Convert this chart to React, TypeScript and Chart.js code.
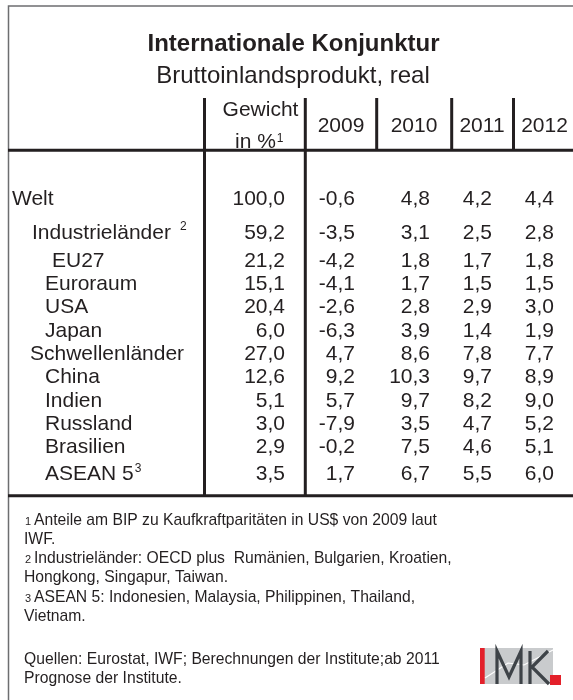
import { useEffect, useRef } from 'react';
import { Chart, registerables } from 'chart.js';

Chart.register(...registerables);

// ---------- data ----------
const TITLE = 'Internationale Konjunktur';
const SUBTITLE = 'Bruttoinlandsprodukt, real';
const WEIGHT_HEAD = ['Gewicht', 'in %'];
const YEARS = ['2009', '2010', '2011', '2012'];

const ROWS = ['Welt', 'Industrieländer', 'EU27', 'Euroraum', 'USA', 'Japan', 'Schwellenländer', 'China', 'Indien', 'Russland', 'Brasilien', 'ASEAN 5'];
const ROW_NOTE = ['', '2', '', '', '', '', '', '', '', '', '', '3'];

const WEIGHT = [100.0, 59.2, 21.2, 15.1, 20.4, 6.0, 27.0, 12.6, 5.1, 3.0, 2.9, 3.5];
const GDP_2009 = [-0.6, -3.5, -4.2, -4.1, -2.6, -6.3, 4.7, 9.2, 5.7, -7.9, -0.2, 1.7];
const GDP_2010 = [4.8, 3.1, 1.8, 1.7, 2.8, 3.9, 8.6, 10.3, 9.7, 3.5, 7.5, 6.7];
const GDP_2011 = [4.2, 2.5, 1.7, 1.5, 2.9, 1.4, 7.8, 9.7, 8.2, 4.7, 4.6, 5.5];
const GDP_2012 = [4.4, 2.8, 1.8, 1.5, 3.0, 1.9, 7.7, 8.9, 9.0, 5.2, 5.1, 6.0];

const FOOTNOTES: [string, string][] = [
  ['1', 'Anteile am BIP zu Kaufkraftparitäten in US$ von 2009 laut'],
  ['', 'IWF.'],
  ['2', 'Industrieländer: OECD plus  Rumänien, Bulgarien, Kroatien,'],
  ['', 'Hongkong, Singapur, Taiwan.'],
  ['3', 'ASEAN 5: Indonesien, Malaysia, Philippinen, Thailand,'],
  ['', 'Vietnam.'],
];
const SOURCES = ['Quellen: Eurostat, IWF; Berechnungen der Institute;ab 2011', 'Prognose der Institute.'];

// ---------- layout (positions / styles) ----------
const W = 573;
const H = 700;
const FONT = "'Liberation Sans', Arial, Helvetica, sans-serif";
const INK = '#231f20';
const ROW_Y = [205, 238.5, 267, 290, 313.3, 336.7, 360, 383.3, 406.7, 430, 453.3, 480];
const ROW_X = [12, 32, 52, 45, 45, 45, 30, 45, 45, 45, 45, 45];
const NOTE_GAP = [0, 9, 0, 0, 0, 0, 0, 0, 0, 0, 0, 1];
const COL_RIGHT = [285, 355, 430, 492, 554];
const YEAR_CX = [341, 414, 482, 544.5];
const FOOT_Y0 = 524.5;
const FOOT_DY = 19.3;
const SOURCE_Y = [664, 683];
const FOOT_FONT = 15.7;

const COLUMNS = [WEIGHT, GDP_2009, GDP_2010, GDP_2011, GDP_2012];
const fmt = (v: number) => v.toFixed(1).replace('.', ',');

export default function App() {
  const ref = useRef<HTMLCanvasElement>(null);

  useEffect(() => {
    const canvas = ref.current!;

    const tablePlugin = {
      id: 'tablePlugin',
      beforeDraw(chart: any) {
        const ctx: CanvasRenderingContext2D = chart.ctx;
        ctx.save();
        ctx.fillStyle = '#ffffff';
        ctx.fillRect(0, 0, W, H);

        // outer frame
        ctx.strokeStyle = '#6d6e70';
        ctx.lineWidth = 1.5;
        ctx.strokeRect(8.5, 6, 600, 760);

        // title
        ctx.fillStyle = INK;
        ctx.textAlign = 'center';
        ctx.textBaseline = 'alphabetic';
        ctx.font = `bold 24px ${FONT}`;
        ctx.fillText(TITLE, 293.5, 51);
        ctx.font = `24px ${FONT}`;
        ctx.fillText(SUBTITLE, 293, 83);

        // header
        ctx.font = `21px ${FONT}`;
        ctx.fillText(WEIGHT_HEAD[0], 260.5, 116);
        ctx.textAlign = 'left';
        ctx.fillText(WEIGHT_HEAD[1], 235, 147.5);
        const w1 = ctx.measureText(WEIGHT_HEAD[1]).width;
        ctx.font = `12px ${FONT}`;
        ctx.fillText('1', 235 + w1 + 1, 141.5);
        ctx.textAlign = 'center';
        ctx.font = `21px ${FONT}`;
        YEARS.forEach((y, i) => ctx.fillText(y, YEAR_CX[i], 131.5));

        // rules
        ctx.strokeStyle = INK;
        ctx.lineWidth = 3;
        ctx.beginPath();
        ctx.moveTo(8, 150.3); ctx.lineTo(W, 150.3);
        ctx.moveTo(8, 495.7); ctx.lineTo(W, 495.7);
        ctx.moveTo(204.5, 98); ctx.lineTo(204.5, 497);
        ctx.moveTo(305.3, 98); ctx.lineTo(305.3, 497);
        ctx.moveTo(376.7, 98); ctx.lineTo(376.7, 150);
        ctx.moveTo(451.7, 98); ctx.lineTo(451.7, 150);
        ctx.moveTo(513.5, 98); ctx.lineTo(513.5, 150);
        ctx.stroke();

        // footnotes
        ctx.textAlign = 'left';
        FOOTNOTES.forEach(([n, t], i) => {
          const y = FOOT_Y0 + i * FOOT_DY;
          if (n) {
            ctx.font = `11px ${FONT}`;
            ctx.fillText(n, 25, y);
            ctx.font = `${FOOT_FONT}px ${FONT}`;
            ctx.fillText(t, 34, y);
          } else {
            ctx.font = `${FOOT_FONT}px ${FONT}`;
            ctx.fillText(t, 24, y);
          }
        });
        ctx.font = `${FOOT_FONT}px ${FONT}`;
        SOURCES.forEach((t, i) => ctx.fillText(t, 24, SOURCE_Y[i]));

        // logo
        ctx.fillStyle = '#c9cbcd';
        ctx.fillRect(480, 648, 73, 36);
        ctx.fillStyle = '#e3202a';
        ctx.fillRect(480, 648, 4.7, 36);
        ctx.fillRect(550, 675, 11, 10);
        ctx.strokeStyle = '#ffffff';
        ctx.lineWidth = 1.2;
        ctx.beginPath();
        ctx.moveTo(485, 678); ctx.lineTo(508, 663); ctx.lineTo(524, 665); ctx.lineTo(553, 650);
        ctx.stroke();
        ctx.strokeStyle = '#3e4348';
        ctx.lineWidth = 3.2;
        ctx.lineJoin = 'miter';
        ctx.beginPath();
        ctx.moveTo(497, 684); ctx.lineTo(497, 651); ctx.lineTo(509, 677); ctx.lineTo(521, 651); ctx.lineTo(521, 684);
        ctx.moveTo(530, 684); ctx.lineTo(530, 651);
        ctx.moveTo(548, 651); ctx.lineTo(532, 667); ctx.lineTo(549, 684);
        ctx.stroke();
        ctx.restore();
      },
      afterDatasetsDraw(chart: any) {
        const ctx: CanvasRenderingContext2D = chart.ctx;
        const yScale = chart.scales.y;
        const xScale = chart.scales.x;
        ctx.save();
        ctx.fillStyle = INK;
        ctx.textBaseline = 'alphabetic';
        // row labels
        ROWS.forEach((label, r) => {
          const y = yScale.getPixelForValue(ROW_Y[r]);
          const x = xScale.getPixelForValue(ROW_X[r]);
          ctx.font = `21px ${FONT}`;
          ctx.textAlign = 'left';
          ctx.fillText(label, x, y);
          if (ROW_NOTE[r]) {
            const w = ctx.measureText(label).width;
            ctx.font = `12px ${FONT}`;
            ctx.fillText(ROW_NOTE[r], x + w + NOTE_GAP[r], y - 8.5);
          }
        });
        // values from dataset elements
        ctx.font = `21px ${FONT}`;
        ctx.textAlign = 'right';
        chart.data.datasets.forEach((_ds: any, c: number) => {
          const meta = chart.getDatasetMeta(c);
          meta.data.forEach((pt: any, r: number) => {
            ctx.fillText(fmt(COLUMNS[c][r]), pt.x, pt.y);
          });
        });
        ctx.restore();
      },
    };

    const datasets = COLUMNS.map((col, c) => ({
      label: c === 0 ? 'Gewicht' : YEARS[c - 1],
      data: col.map((_v, r) => ({ x: COL_RIGHT[c], y: ROW_Y[r] })),
      pointRadius: 0,
      showLine: false,
    }));

    const chart = new Chart(canvas, {
      type: 'scatter',
      data: { datasets },
      options: {
        responsive: false,
        animation: false,
        devicePixelRatio: 1,
        events: [],
        layout: { padding: 0 },
        plugins: { legend: { display: false }, tooltip: { enabled: false } },
        scales: {
          x: { type: 'linear', min: 0, max: W, display: false },
          y: { type: 'linear', min: 0, max: H, reverse: true, display: false },
        },
      },
      plugins: [tablePlugin],
    } as any);

    return () => chart.destroy();
  }, []);

  return (
    <div style={{ position: 'fixed', left: 0, top: 0, width: W, height: H, background: '#fff' }}>
      <canvas ref={ref} width={W} height={H} style={{ display: 'block', width: W, height: H }} />
    </div>
  );
}
